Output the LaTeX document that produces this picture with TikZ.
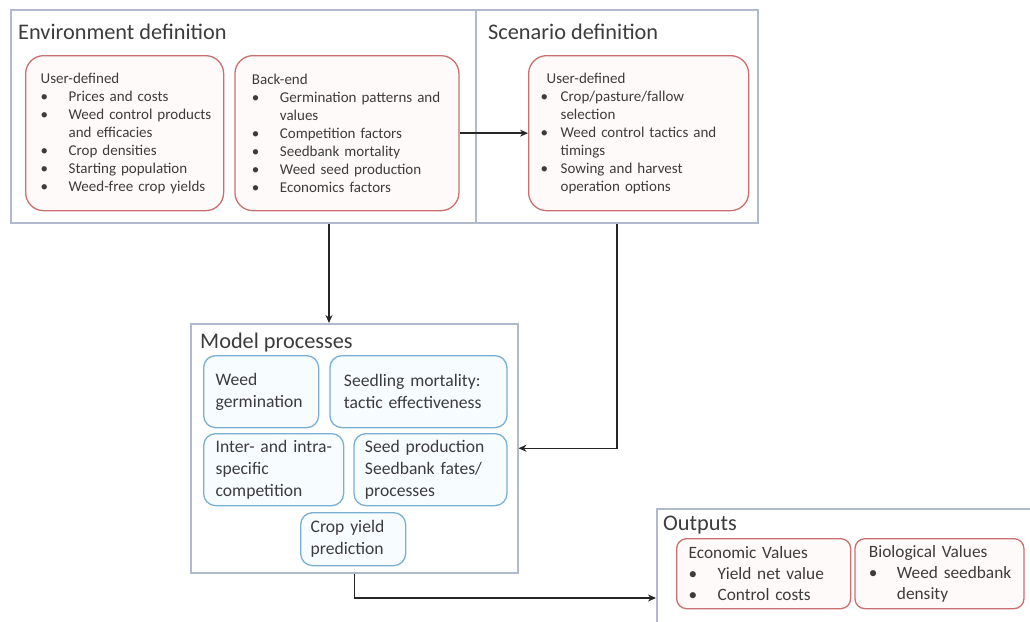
\documentclass[tikz,border=0pt]{standalone}
\usepackage{fontspec}
\setmainfont{Carlito}
\usetikzlibrary{arrows.meta,positioning}
\definecolor{framecol}{RGB}{176,186,204}
\definecolor{redcol}{RGB}{200,112,112}
\definecolor{redfill}{RGB}{255,250,250}
\definecolor{bluecol}{RGB}{120,175,210}
\definecolor{bluefill}{RGB}{247,252,255}
\definecolor{txtcol}{RGB}{60,60,60}
\tikzset{
  frame/.style   = {draw=framecol, line width=1.5pt, fill=white, rectangle,
                    anchor=north west, inner sep=0pt},
  title/.style   = {anchor=base west, inner sep=0pt, text=txtcol,
                    font=\fontsize{22.3}{26}\selectfont},
  redbox/.style  = {draw=redcol, line width=1.3pt, fill=redfill, rounded corners=18pt,
                    align=left, text=txtcol, font=\fontsize{15}{18}\selectfont},
  bluebox/.style = {draw=bluecol, line width=1.3pt, fill=bluefill, rounded corners=12pt,
                    align=left, text=txtcol, font=\fontsize{17.6}{22}\selectfont},
  outbox/.style  = {redbox, rounded corners=10pt, font=\fontsize{17.3}{21}\selectfont},
  arr/.style     = {-{Stealth[length=8pt,width=7pt]}, line width=1.5pt, draw=black!85}
}
\newcommand{\bul}[2][28pt]{\makebox[#1][l]{\textbullet}\mbox{#2}}
\newcommand{\cnt}[2][28pt]{\hspace*{#1}\mbox{#2}}
\newcommand{\sbul}[1]{\hspace*{-6pt}\makebox[20pt][l]{\textbullet}\mbox{#1}}

\begin{document}
\begin{tikzpicture}[x=1pt, y=-1pt]
\useasboundingbox (0,0) rectangle (1030,621);

% outer frames
\node[frame, minimum width=465pt, minimum height=213pt] (envframe) at (10,9) {};
\node[frame, minimum width=282pt, minimum height=213pt] (scenframe) at (475,9) {};
\node[frame, minimum width=327pt, minimum height=249pt] (model) at (190,323) {};
\node[frame, minimum width=390pt, minimum height=150pt] (outputs) at (656,508) {};

% frame titles
\node[title] (envtitle) at (18,39) {Environment definition};
\node[title] (scentitle) at (488,39) {Scenario definition};
\node[title] (modeltitle) at (200,348) {Model processes};
\node[title] (outtitle) at (663,530) {Outputs};

% environment and scenario inputs
\node[redbox, anchor=north west, minimum width=198pt, minimum height=155pt,
      text width=168pt, inner xsep=15pt] (user) at (25,55) {User-defined\\
  \bul{Prices and costs}\\
  \bul{Weed control products}\\
  \cnt{and efficacies}\\
  \bul{Crop densities}\\
  \bul{Starting population}\\
  \bul{Weed-free crop yields}};
\node[redbox, right=10pt of user, minimum width=224pt, minimum height=155pt,
      text width=190pt, inner xsep=17pt] (backend) {Back-end\\
  \bul{Germination patterns and}\\
  \cnt{values}\\
  \bul{Competition factors}\\
  \bul{Seedbank mortality}\\
  \bul{Weed seed production}\\
  \bul{Economics factors}};
\node[redbox, anchor=north west, minimum width=220pt, minimum height=155pt,
      text width=184pt, inner xsep=18pt] (scenbox) at (528,55) {User-defined\\
  \sbul{Crop/pasture/fallow}\\
  \cnt[14pt]{selection}\\
  \sbul{Weed control tactics and}\\
  \cnt[14pt]{timings}\\
  \sbul{Sowing and harvest}\\
  \cnt[14pt]{operation options}};

% model processes
\node[bluebox, anchor=north west, minimum width=115pt, minimum height=72pt,
      text width=91pt, inner xsep=12pt] (germ) at (203,355) {Weed\\germination};
\node[bluebox, right=10pt of germ, minimum width=177pt, minimum height=72pt,
      text width=149pt, inner xsep=14pt] (mort) {Seedling mortality:\\tactic effectiveness};
\node[bluebox, anchor=north west, minimum width=140pt, minimum height=72pt,
      text width=116pt, inner xsep=12pt] (comp) at (203,433) {\mbox{Inter- and intra-}\\specific\\competition};
\node[bluebox, right=9pt of comp, minimum width=153pt, minimum height=72pt,
      text width=131pt, inner xsep=11pt] (seed) {Seed production\\Seedbank fates/\\processes};
\node[bluebox, anchor=north west, minimum width=105pt, minimum height=53pt,
      text width=85pt, inner xsep=10pt] (yield) at (300,512) {Crop yield\\prediction};

% outputs
\node[outbox, anchor=north west, minimum width=174pt, minimum height=70pt,
      text width=150pt, inner xsep=12pt] (econ) at (676,538) {Economic Values\\
  \bul[29pt]{Yield net value}\\
  \bul[29pt]{Control costs}};
\node[outbox, right=3pt of econ, minimum width=169pt, minimum height=70pt,
      text width=141pt, inner xsep=14pt] (bio) {Biological Values\\
  \bul{Weed seedbank}\\
  \cnt{density}};

% connectors
\coordinate (envdrop) at (329,0);
\coordinate (outlevel) at (0,598);
\draw[arr] (backend.east) -- (scenbox.west);
\draw[arr] (envdrop |- envframe.south) -- (envdrop |- model.north);
\draw[arr] (scenframe.south) |- (model.east);
\draw[arr] (model.south) |- (outlevel -| outputs.west);
\end{tikzpicture}
\end{document}
